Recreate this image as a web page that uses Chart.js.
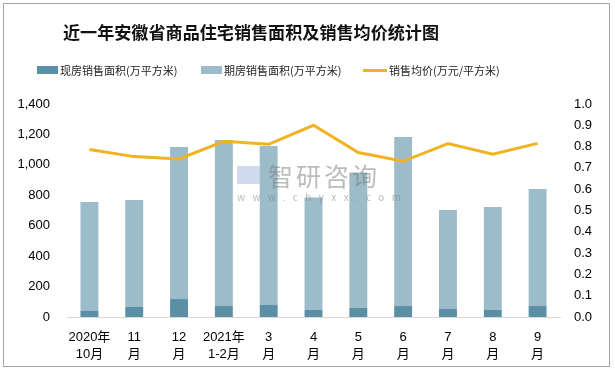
<!DOCTYPE html>
<html>
<head>
<meta charset="utf-8">
<script src="https://cdn.jsdelivr.net/npm/chart.js@4.4.0/dist/chart.umd.min.js"></script>
<style>
    body { margin: 0; background: #fff; }
    #wrap { position: relative; width: 615px; height: 371px; }
    #frame { position: absolute; left: 3px; top: 3px; width: 605px; height: 362px; border: 1px solid #a6a6a6; pointer-events: none; }
    #title { position: absolute; left: 63px; top: 20px; white-space: nowrap; font: bold 17.1px "Noto Sans CJK SC", sans-serif; color: #111; line-height: 24px; }
    #legend { position: absolute; left: 37px; top: 62px; font: 11px "Noto Sans CJK SC", sans-serif; color: #222; line-height: 16px; }
    .item { position: absolute; top: 0; display: flex; align-items: center; white-space: nowrap; }
    .swatch { display: inline-block; width: 21px; margin-right: 2px; }
    #mark { position: absolute; left: 237px; top: 160px; color: rgba(120,120,120,0.5); font-family: "Noto Sans CJK SC", sans-serif; pointer-events: none; white-space: nowrap; }
</style>
</head>
<body>
<div id="wrap">
    <canvas id="chart" width="615" height="371"></canvas>
    <div id="title">近一年安徽省商品住宅销售面积及销售均价统计图</div>
    <div id="legend"></div>
    <div id="mark">
        <div style="display:flex;align-items:center"><span style="display:inline-block;width:24px;height:18px;background:rgba(170,190,225,0.55);margin-right:7px"></span><span style="font-size:25px;letter-spacing:3px;line-height:30px">智研咨询</span></div>
        <div style="font-size:10px;letter-spacing:7.4px;line-height:14px">www.chyxx.com</div>
    </div>
    <div id="frame"></div>
</div>
<script>
const months = [['2020年', '10月'], ['11', '月'], ['12', '月'], ['2021年', '1-2月'], ['3', '月'], ['4', '月'], ['5', '月'], ['6', '月'], ['7', '月'], ['8', '月'], ['9', '月']];
// 现房销售面积 (万平方米)
const currentArea = [40, 66, 118, 72, 79, 46, 59, 72, 53, 46, 72];
// 期房销售面积 (万平方米)
const futureArea = [716, 703, 1000, 1092, 1045, 739, 891, 1111, 650, 677, 769];
// 销售均价 (万元/平方米)
const avgPrice = [0.786, 0.753, 0.742, 0.825, 0.811, 0.900, 0.772, 0.731, 0.814, 0.764, 0.815];

const leftTicks = [0, 200, 400, 600, 800, 1000, 1200, 1400];
const rightTicks = [0, 0.1, 0.2, 0.3, 0.4, 0.5, 0.6, 0.7, 0.8, 0.9, 1.0];

const tickFont = { family: '"Liberation Sans", "Noto Sans CJK SC"', size: 13, lineHeight: 1.38 };

const datasets = [
    {
        type: 'bar',
        label: '现房销售面积(万平方米)',
        data: currentArea,
        backgroundColor: '#5b8fa6',
        yAxisID: 'y',
        stack: 's',
        order: 1
    },
    {
        type: 'bar',
        label: '期房销售面积(万平方米)',
        data: futureArea,
        backgroundColor: '#9dbcca',
        yAxisID: 'y',
        stack: 's',
        order: 1
    },
    {
        type: 'line',
        label: '销售均价(万元/平方米)',
        data: avgPrice,
        borderColor: '#f2b323',
        borderWidth: 3,
        pointRadius: 0,
        tension: 0,
        yAxisID: 'y1',
        order: 0
    }
];

const ctx = document.getElementById('chart').getContext('2d');
const chart = new Chart(ctx, {
    data: { labels: months, datasets: datasets },
    options: {
        responsive: false,
        animation: false,
        layout: { padding: { left: 18, right: 23, top: 104, bottom: 0 } },
        datasets: { bar: { barPercentage: 0.4, categoryPercentage: 1 } },
        plugins: { legend: { display: false }, title: { display: false }, tooltip: { enabled: false } },
        scales: {
            x: {
                stacked: true,
                grid: { display: false, drawTicks: false },
                border: { display: true, color: '#d9d9d9' },
                ticks: { font: tickFont, color: '#000', maxRotation: 0, autoSkip: false, padding: 11 },
                afterFit: axis => { axis.height = 54; }
            },
            y: {
                stacked: true,
                position: 'left',
                min: 0,
                max: 1400,
                afterBuildTicks: axis => { axis.ticks = leftTicks.map(v => ({ value: v })); },
                grid: { display: false, drawTicks: false },
                border: { display: false },
                ticks: {
                    font: tickFont, color: '#000', padding: 17, autoSkip: false,
                    callback: v => v.toLocaleString('en-US')
                },
                afterFit: axis => { axis.width = 49; }
            },
            y1: {
                position: 'right',
                min: 0,
                max: 1,
                afterBuildTicks: axis => { axis.ticks = rightTicks.map(v => ({ value: v })); },
                grid: { display: false, drawTicks: false },
                border: { display: false },
                ticks: { font: tickFont, color: '#000', padding: 14, autoSkip: false, callback: v => v.toFixed(1) },
                afterFit: axis => { axis.width = 32; }
            }
        }
    }
});

// legend built from the datasets, item positions follow the reference
const legendX = [0, 164, 326];
const legend = document.getElementById('legend');
datasets.forEach((ds, i) => {
    const item = document.createElement('span');
    item.className = 'item';
    item.style.left = legendX[i] + 'px';
    const sw = document.createElement('span');
    sw.className = 'swatch';
    if (ds.type === 'bar') {
        sw.style.height = '8px';
        sw.style.background = ds.backgroundColor;
    } else {
        sw.style.width = '24px';
        sw.style.height = '3px';
        sw.style.background = ds.borderColor;
    }
    item.appendChild(sw);
    item.appendChild(document.createTextNode(ds.label));
    legend.appendChild(item);
});
</script>
</body>
</html>
